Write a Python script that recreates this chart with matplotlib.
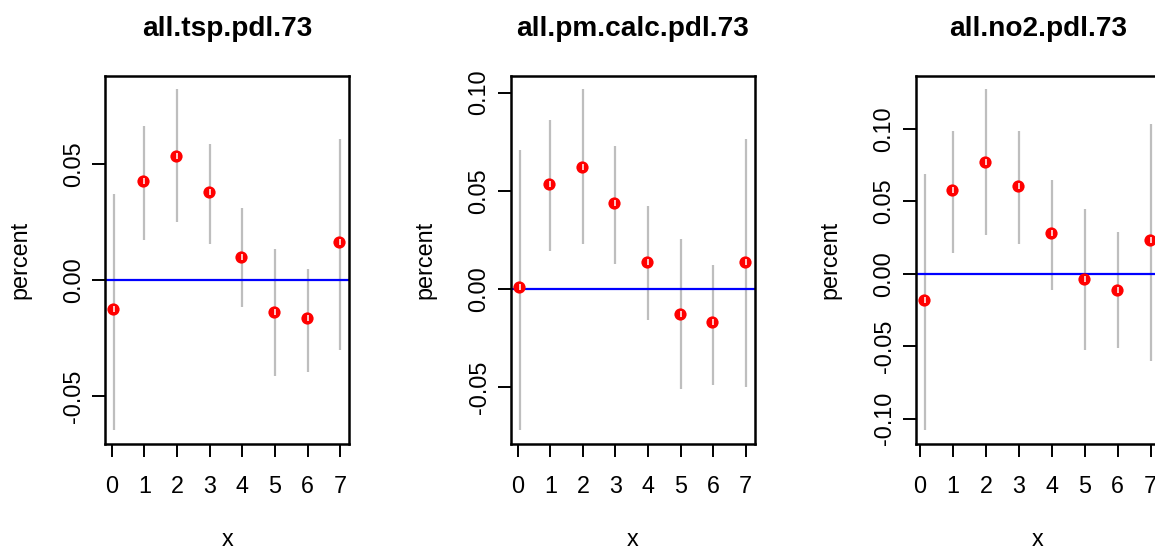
import matplotlib
matplotlib.use("Agg")
import matplotlib.pyplot as plt

# lag values and estimates (percent change)
lags = [0, 1, 2, 3, 4, 5, 6, 7]
titles = ["all.tsp.pdl.73", "all.pm.calc.pdl.73", "all.no2.pdl.73"]

# first lag sits a little right of 0 in each panel
tsp_x = [0.08, 1, 2, 3, 4, 5, 6, 7]
tsp_est = [-0.0124, 0.0426, 0.0537, 0.0378, 0.0099, -0.0136, -0.0162, 0.0164]
tsp_lo = [-0.0646, 0.0174, 0.0249, 0.0154, -0.0116, -0.0414, -0.0396, -0.0303]
tsp_hi = [0.0373, 0.0663, 0.0823, 0.0589, 0.0309, 0.0133, 0.0048, 0.0609]

pm_x = [0.06, 1, 2, 3, 4, 5, 6, 7]
pm_est = [0.0007, 0.0535, 0.0623, 0.0436, 0.0138, -0.0127, -0.0171, 0.0138]
pm_lo = [-0.0719, 0.0193, 0.0226, 0.0128, -0.0159, -0.0513, -0.0490, -0.0502]
pm_hi = [0.0708, 0.0861, 0.1017, 0.0730, 0.0422, 0.0255, 0.0122, 0.0763]

no2_x = [0.14, 1, 2, 3, 4, 5, 6, 7]
no2_est = [-0.0183, 0.0576, 0.0770, 0.0608, 0.0279, -0.0034, -0.0110, 0.0233]
no2_lo = [-0.1077, 0.0146, 0.0265, 0.0203, -0.0110, -0.0528, -0.0512, -0.0601]
no2_hi = [0.0690, 0.0988, 0.1273, 0.0988, 0.0645, 0.0450, 0.0286, 0.1034]

yticks = [[-0.05, 0.00, 0.05],
          [-0.05, 0.00, 0.05, 0.10],
          [-0.10, -0.05, 0.00, 0.05, 0.10]]


def r_range(lo, hi):
    # R style axis range: data range plus 4% each side
    a, b = min(lo), max(hi)
    d = (b - a) * 0.04
    return a - d, b + d


def plot_panels():
    plt.rcParams['font.family'] = ['Liberation Sans', 'DejaVu Sans']
    W, H = 1155, 550
    fig = plt.figure(figsize=(W / 100, H / 100), dpi=100)

    panels = [(tsp_x, tsp_est, tsp_lo, tsp_hi),
              (pm_x, pm_est, pm_lo, pm_hi),
              (no2_x, no2_est, no2_lo, no2_hi)]
    lefts = [105.3, 510.7, 915.7]
    aw, top, bottom = 244, 75.7, 443.5

    for i, (xs, est, lo, hi) in enumerate(panels):
        L = lefts[i]
        ax = fig.add_axes([L / W, (H - bottom) / H, aw / W, (bottom - top) / H])

        # grey CI bars, red estimates, white nick where bar passes the dot
        ax.vlines(xs, lo, hi, color='#BEBEBE', linewidth=1.6, zorder=2)
        dot_x = [x - 0.03 for x in xs]
        ax.plot(dot_x, est, 'o', color='#FF0000', markersize=8.8, markeredgewidth=0, zorder=3)
        ax.plot(xs, est, '|', color='white', markersize=4.5, markeredgewidth=1.1, zorder=4)
        ax.axhline(0, color='#0000FF', linewidth=1.6, zorder=2.5)

        ax.set_xlim(*r_range(xs, xs))
        ax.set_ylim(*r_range(lo, hi))
        ax.set_xticks(lags)
        ax.set_yticks(yticks[i])
        ax.set_yticklabels(["%.2f" % t for t in yticks[i]], rotation=90, va='center')

        ax.tick_params(axis='both', length=9.5, width=1.4, labelsize=16.8, color='black')
        ax.tick_params(axis='x', pad=13.5)
        ax.tick_params(axis='y', pad=5)
        for sp in ax.spines.values():
            sp.set_linewidth(1.8)

        cx = (L + aw / 2) / W
        fig.text(cx, (H - 36.5) / H, titles[i], ha='center', va='baseline',
                 fontsize=20.2, fontweight='bold')
        fig.text(cx, (H - 546.5) / H, 'x', ha='center', va='baseline', fontsize=16.8)
        fig.text((L - 74) / W, (H - (top + bottom) / 2) / H, 'percent', rotation=90,
                 ha='right', va='center', fontsize=16.8)

    fig.savefig('out.png', dpi=100)


if __name__ == "__main__":
    plot_panels()
